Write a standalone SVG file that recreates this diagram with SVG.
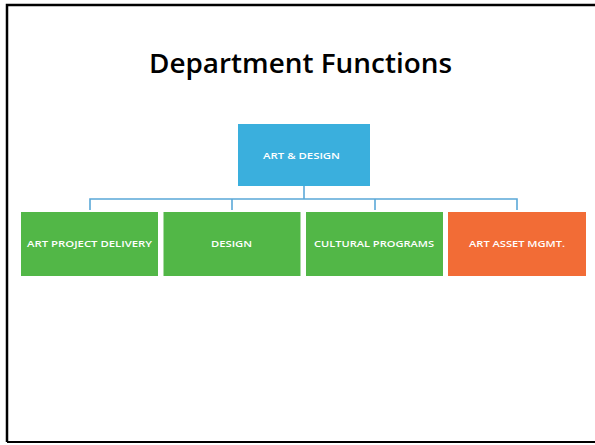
<svg xmlns="http://www.w3.org/2000/svg" width="595" height="445" viewBox="0 0 595 445">
<style>
.lbl{font-family:"Open Sans","Liberation Sans",Arial,sans-serif;font-weight:600;font-size:9.6px;fill:#ffffff;text-anchor:middle}
.title{font-family:"Open Sans","Liberation Sans",Arial,sans-serif;font-weight:600;font-size:27.5px;fill:#000000;text-anchor:middle}
.green{fill:#52b747}
</style>
<rect x="0" y="0" width="595" height="445" fill="#ffffff"/>
<path d="M7,442 V5 H600" fill="none" stroke="#000000" stroke-width="2.5"/>
<path d="M7,442 H600" fill="none" stroke="#000000" stroke-width="2"/>
<text class="title" x="300.5" y="73.3" textLength="303" lengthAdjust="spacingAndGlyphs">Department Functions</text>
<g id="connectors" fill="none" stroke="#5aa8d8" stroke-width="1.6">
<path d="M304,186 V199"/>
<path d="M90,210 V199 H517 V210"/>
<path d="M232,199 V210"/>
<path d="M375,199 V210"/>
</g>
<g id="art-design">
<rect x="238" y="124" width="132" height="62" fill="#3aafdd"/>
<text class="lbl" x="301.5" y="159" textLength="77" lengthAdjust="spacingAndGlyphs">ART &amp; DESIGN</text>
</g>
<g id="art-project-delivery">
<rect class="green" x="21" y="212" width="137" height="64"/>
<text class="lbl" x="89.5" y="247" textLength="125" lengthAdjust="spacingAndGlyphs">ART PROJECT DELIVERY</text>
</g>
<g id="design">
<rect class="green" x="163.5" y="212" width="137" height="64"/>
<text class="lbl" x="231.5" y="247" textLength="41" lengthAdjust="spacingAndGlyphs">DESIGN</text>
</g>
<g id="cultural-programs">
<rect class="green" x="306" y="212" width="137" height="64"/>
<text class="lbl" x="374" y="247" textLength="120" lengthAdjust="spacingAndGlyphs">CULTURAL PROGRAMS</text>
</g>
<g id="art-asset-mgmt">
<rect x="448" y="212" width="138" height="64" fill="#f26c36"/>
<text class="lbl" x="517" y="247" textLength="96" lengthAdjust="spacingAndGlyphs">ART ASSET MGMT.</text>
</g>
</svg>
